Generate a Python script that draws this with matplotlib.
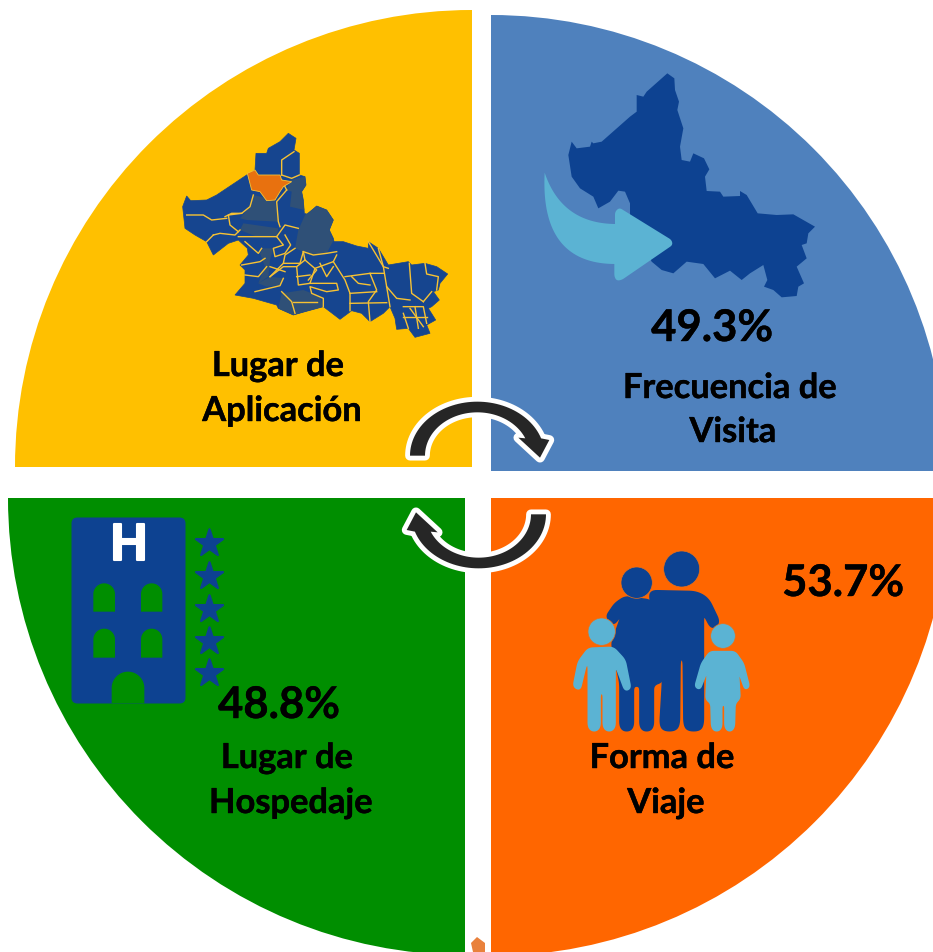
"""
Infografia de cuatro cuadrantes: lugar de aplicacion, frecuencia, forma de viaje, hospedaje.
All geometry is in reference pixels (axes 0..933 x 952..0).
"""

import numpy as np
import matplotlib
matplotlib.use('Agg')
import matplotlib.pyplot as plt
import matplotlib.patheffects as pe
from matplotlib.patches import Wedge, Polygon, Circle, FancyBboxPatch

# ── Data ───────────────────────────────────────────────
quadrant_names = ['Lugar de\nAplicación', 'Frecuencia de\nVisita', 'Forma de\nViaje', 'Lugar de\nHospedaje']
quadrant_values = [None, 49.3, 53.7, 48.8]
quadrant_colors = ['#FFC000', '#4F81BD', '#FF6600', '#008E00']
wedge_centers = [(472, 467), (491, 471), (491, 498), (465, 498)]
wedge_radius = [457, 456, 458, 457]
wedge_angles = [(180, 270), (270, 360), (0, 90), (90, 180)]

label_pos = [[(278, 366), (282, 411)], [(730, 388), (733, 432)],
             [(662, 758), (666, 803)], [(287, 758), (291, 803)]]
value_pos = [None, (712, 328), (843, 583), (279, 705)]

DARK_BLUE = '#0D4291'
MAP_BLUE = '#16458F'
MAP_GREY = '#2F5077'
LIGHT_BLUE = '#5BB3D3'
ARROW_DARK = '#262626'
MAP_LINE = '#F7C233'

# Map outline (crop coordinates from the reference, offset below)
map_outline = [(355,40),(378,55),(372,90),(388,100),(388,165),(405,170),(408,195),(395,215),(400,240),
               (403,280),(412,283),(440,258),(470,270),(490,300),(478,330),(490,355),(492,365),(520,365),
               (560,378),(595,385),(595,365),(625,385),(655,435),(715,425),(725,435),(765,430),(800,440),
               (833,462),(810,490),(805,510),(790,515),(808,540),(785,560),(775,565),(797,600),(770,615),
               (780,640),(735,652),(715,625),(680,628),(675,595),(660,560),(640,580),(600,605),(575,580),
               (545,572),(510,598),(480,575),(460,560),(405,575),(370,585),(325,565),(320,555),(250,535),
               (195,525),(225,490),(225,450),(210,435),(235,405),(232,385),(205,360),(175,370),(130,405),
               (110,365),(75,345),(45,325),(38,260),(50,228),(62,242),(110,240),(140,225),(230,165),
               (255,150),(258,100),(290,100),(295,85),(330,65)]
map_grey_regions = [
    [(405,285),(440,258),(470,270),(490,300),(478,330),(490,362),(470,400),(430,405),(400,395),(375,385),(385,330)],
    [(250,225),(315,240),(325,305),(230,300),(210,295),(240,260)],
    [(220,310),(325,325),(320,350),(260,350),(210,330)],
    [(360,180),(405,170),(408,195),(395,215),(403,270),(360,260),(365,215),(350,210)],
    [(335,520),(400,510),(450,530),(460,560),(405,575),(370,585),(325,565)],
    [(265,490),(300,470),(340,475),(330,495),(290,500)],
    [(280,385),(310,385),(300,420),(295,470),(265,490),(285,440),(270,400)],
]
map_orange = [(232,160),(255,150),(265,165),(330,165),(335,180),(365,185),(340,200),(330,215),(315,240),
              (290,242),(270,215),(245,210)]
map_borders = [
    [(335,165),(335,120),(372,95)], [(335,165),(365,175),(388,165)], [(350,210),(320,245),(325,305),(330,320)],
    [(250,225),(240,260),(215,280),(175,285),(180,315),(205,335)], [(50,285),(100,285),(125,300),(170,295)],
    [(215,280),(185,280),(165,290)], [(130,345),(110,365)], [(130,345),(150,340),(195,345),(210,330)],
    [(205,350),(250,350),(320,350),(345,315),(385,325)], [(320,350),(340,375),(310,385),(315,410),(345,400),(362,375),(345,345)],
    [(375,385),(345,405),(340,430),(390,430),(400,395)], [(225,365),(265,400),(275,385)],
    [(215,435),(270,425),(285,415)], [(225,465),(265,470),(290,440)], [(255,515),(330,497),(340,475)],
    [(300,470),(340,440),(380,440),(385,495),(420,490),(435,445),(490,425),(500,405)],
    [(400,395),(430,405),(470,400),(500,395)], [(490,425),(525,480),(540,520),(540,572)],
    [(420,490),(500,490),(505,510),(470,515),(420,500),(425,520),(460,535),(460,560)],
    [(525,470),(600,460),(640,460)], [(600,460),(620,510),(595,545),(600,605)], [(540,520),(620,515)],
    [(540,550),(650,548)], [(595,365),(640,440),(650,500),(660,560)], [(650,500),(680,535),(720,540)],
    [(718,430),(725,520),(760,545)], [(765,430),(770,462),(805,470),(800,510)], [(760,545),(785,515)],
    [(700,560),(760,560),(770,610)], [(700,580),(715,625)], [(700,590),(770,590)], [(735,560),(745,625)],
    [(720,565),(760,620)], [(625,385),(640,440),(655,445)], [(335,515),(365,545),(375,580)], [(370,545),(440,545)],
    [(350,210),(335,180)], [(340,430),(300,470)], [(405,420),(440,450),(415,480)], [(450,430),(470,470),(490,440)],
    [(545,470),(565,490),(600,495)], [(380,470),(420,465)], [(300,440),(345,455)], [(400,395),(405,420),(380,440)],
]

# Solid map silhouette of the blue quadrant
solid_map = [(412,40),(433,55),(435,90),(447,125),(442,150),(460,205),(450,260),(455,300),(480,305),(490,280),
             (522,295),(538,328),(525,350),(530,393),(570,395),(580,410),(630,408),(630,393),(650,405),(683,460),
             (740,465),(790,463),(855,500),(835,520),(830,550),(815,555),(830,595),(800,620),(822,670),(805,680),
             (800,708),(755,712),(730,690),(702,680),(712,660),(700,615),(660,640),(635,660),(600,632),(555,655),
             (520,612),(470,605),(430,640),(395,630),(365,605),(300,480),(300,430),(285,395),(265,392),(240,425),
             (205,445),(190,410),(150,385),(125,350),(115,285),(125,245),(140,265),(180,260),(185,245),(190,250),
             (215,245),(300,170),(320,155),(320,105),(340,110),(350,95)]
arrow_head = [(255,492),(255,455),(268,443),(425,540),(428,555),(275,660),(260,662),(253,650),(253,612)]

# Family icon
father_body = [(270,152),(410,155),(445,175),(480,248),(455,268),(430,220),(430,555),(418,572),(384,572),
               (372,555),(370,358),(360,358),(358,555),(345,572),(312,572),(300,555),(308,420),(295,240),(270,185)]
mother_body = [(195,170),(270,180),(295,205),(295,260),(308,425),(280,435),(280,558),(270,572),(250,572),(240,558),
               (240,438),(220,438),(220,558),(210,572),(190,572),(180,558),(180,430),(155,310),(185,225),(160,255),
               (138,230),(165,190)]
child_left = [(85,325),(160,322),(195,360),(212,445),(195,452),(170,385),(165,385),(165,560),(155,572),(140,572),
              (130,560),(130,460),(120,460),(120,560),(110,572),(95,572),(85,560),(85,375),(78,375),(60,450),(40,440),(55,365)]
child_right = [(450,335),(525,335),(550,370),(568,440),(555,448),(535,392),(540,475),(525,490),(523,560),(515,572),
               (503,572),(495,560),(495,495),(485,495),(485,560),(477,572),(463,572),(455,560),(453,490),(438,478),
               (442,392),(420,448),(405,440),(425,370)]
family_heads = [((365,87),54,DARK_BLUE), ((230,128),47,DARK_BLUE), ((125,275),41,LIGHT_BLUE), ((489,288),37,LIGHT_BLUE)]

# Hotel icon
hotel_windows = [(100,220,165,305), (243,220,307,305), (100,356,165,443), (243,356,307,443)]
hotel_door = (155,485,253,580)
star_x = 447
star_y = [100, 198, 296, 393, 490]


def crop(points, x0, y0):
    """Zoom crops were 3x; bring points back to reference pixels."""
    return [(x0 + px / 3, y0 + py / 3) for px, py in points]


def round_poly(points, d):
    # replace each vertex by a small quadratic curve, d = cut distance along the edges
    pts = np.array(points, dtype=float)
    out = []
    n = len(pts)
    for i in range(n):
        p, a, b = pts[i], pts[i - 1], pts[(i + 1) % n]
        da = min(d, np.linalg.norm(a - p) / 2)
        db = min(d, np.linalg.norm(b - p) / 2)
        s = p + (a - p) / np.linalg.norm(a - p) * da
        e = p + (b - p) / np.linalg.norm(b - p) * db
        for t in np.linspace(0, 1, 8):
            out.append((1 - t) ** 2 * s + 2 * t * (1 - t) * p + t ** 2 * e)
    return np.array(out)


def bezier(p0, c, p2, n=40):
    t = np.linspace(0, 1, n)[:, None]
    p0, c, p2 = np.array(p0, float), np.array(c, float), np.array(p2, float)
    return (1 - t) ** 2 * p0 + 2 * t * (1 - t) * c + t ** 2 * p2


def arch(ax, x1, y1, x2, y2, color):
    # window/door: rectangle with a half-ellipse top
    t = np.linspace(np.pi, 0, 40)
    cx, rx = (x1 + x2) / 2, (x2 - x1) / 2
    top = [(cx + rx * np.cos(a), y1 + rx - rx * np.sin(a)) for a in t]
    pts = top + [(x2, y2), (x1, y2)]
    ax.add_patch(Polygon(crop(pts, 60, 510), closed=True, fc=color, ec='none', zorder=4))


def curved_arrow():
    # top arrow in crop coordinates (crop origin 390, 385)
    t = np.radians(np.linspace(180, 18.7, 60))
    outer = [(262 + 202 * np.cos(a), 212 - 162 * np.sin(a)) for a in t]
    t2 = np.radians(np.linspace(23.6, 180, 60))
    inner = [(262 + 157 * np.cos(a), 212 - 130 * np.sin(a)) for a in t2]
    return outer + [(478, 165), (450, 218), (385, 158)] + inner


fig = plt.figure(figsize=(9.33, 9.52), dpi=100, facecolor='white')
ax = fig.add_axes([0, 0, 1, 1])
ax.set_xlim(0, 933)
ax.set_ylim(952, 0)
ax.axis('off')
plt.rcParams['font.family'] = ['Lato', 'DejaVu Sans']

# ── Quadrants ──────────────────────────────────────────
for center, r, (a1, a2), color in zip(wedge_centers, wedge_radius, wedge_angles, quadrant_colors):
    ax.add_patch(Wedge(center, r, a1, a2, fc=color, ec='none', zorder=1))

# ── Yellow quadrant map ────────────────────────────────
ax.add_patch(Polygon(crop(map_outline, 170, 120), closed=True, fc=MAP_BLUE, ec=MAP_BLUE, lw=0.5, zorder=2))
for region in map_grey_regions:
    ax.add_patch(Polygon(crop(region, 170, 120), closed=True, fc=MAP_GREY, ec='none', zorder=3))
for line in map_borders:
    pts = np.array(crop(line, 170, 120))
    ax.plot(pts[:, 0], pts[:, 1], color=MAP_LINE, lw=1.0, zorder=4)
ax.add_patch(Polygon(crop(map_orange, 170, 120), closed=True, fc='#E8710F', ec=MAP_LINE, lw=0.6, zorder=5))

# ── Blue quadrant map and arrow ────────────────────────
ax.add_patch(Polygon(crop(solid_map, 530, 60), closed=True, fc=DARK_BLUE, ec='none', zorder=2))
arrow_pts = np.vstack([bezier((44, 338), (95, 490), (255, 492)),
                       round_poly(arrow_head, 9)[8:-8],
                       bezier((253, 612), (30, 610), (44, 338))])
ax.add_patch(Polygon(crop(arrow_pts, 530, 60), closed=True, fc=LIGHT_BLUE, ec='none', zorder=3))

# ── Family ─────────────────────────────────────────────
for body, color, d in [(father_body, DARK_BLUE, 22), (mother_body, DARK_BLUE, 14),
                       (child_left, LIGHT_BLUE, 14), (child_right, LIGHT_BLUE, 12)]:
    ax.add_patch(Polygon(crop(round_poly(body, d), 560, 540), closed=True, fc=color, ec=color, lw=1.2,
                         joinstyle='round', zorder=3))
for (hx, hy), hr, color in family_heads:
    ax.add_patch(Circle((560 + hx / 3, 540 + hy / 3), hr / 3, fc=color, ec='#E8701A', lw=0.5, zorder=4))

# ── Hotel ──────────────────────────────────────────────
ax.add_patch(FancyBboxPatch((77, 523), 103, 175, boxstyle='round,pad=5.5,rounding_size=6',
                            fc=DARK_BLUE, ec='none', zorder=3))
for win in hotel_windows:
    arch(ax, *win, quadrant_colors[3])
arch(ax, *hotel_door, quadrant_colors[3])
ax.text(129, 545, 'H', color='white', fontsize=35, fontweight='bold', ha='center', va='center', zorder=5,
        path_effects=[pe.withStroke(linewidth=1.5, foreground='white')])
ax.scatter([60 + star_x / 3] * len(star_y), [510 + y / 3 for y in star_y], marker='*', s=420,
           color=DARK_BLUE, edgecolors=DARK_BLUE, linewidths=1.6, zorder=4)

# ── Curved arrows ──────────────────────────────────────
arrow_top = crop(curved_arrow(), 390, 385)
# bottom arrow is the top one turned 180 degrees around the middle of the figure
arrow_bottom = [(2 * 478 - x, 2 * 485 - y) for x, y in arrow_top]
for pts in (arrow_top, arrow_bottom):
    ax.add_patch(Polygon(pts, closed=True, fc='white', ec='white', lw=7, joinstyle='round', zorder=6))
    ax.add_patch(Polygon(pts, closed=True, fc=ARROW_DARK, ec='none', zorder=7))

# small leftover mark at the bottom
ax.add_patch(Polygon([(471, 943), (477, 937), (485, 943), (485, 952), (473, 952)], closed=True,
                     fc='#E9813C', ec='none', zorder=2))

# ── Text ───────────────────────────────────────────────
heavier = [pe.withStroke(linewidth=0.3, foreground='black')]
for name, positions in zip(quadrant_names, label_pos):
    for line, (tx, ty) in zip(name.split('\n'), positions):
        ax.text(tx, ty, line, color='black', fontsize=24.8, fontweight='bold', ha='center', va='center',
                zorder=8, path_effects=heavier)

for value, pos in zip(quadrant_values, value_pos):
    if value is not None:
        ax.text(pos[0], pos[1], f'{value}%', color='black', fontsize=31.4, fontweight='bold',
                ha='center', va='center', zorder=8, path_effects=heavier)

fig.savefig('out.png', dpi=100)
